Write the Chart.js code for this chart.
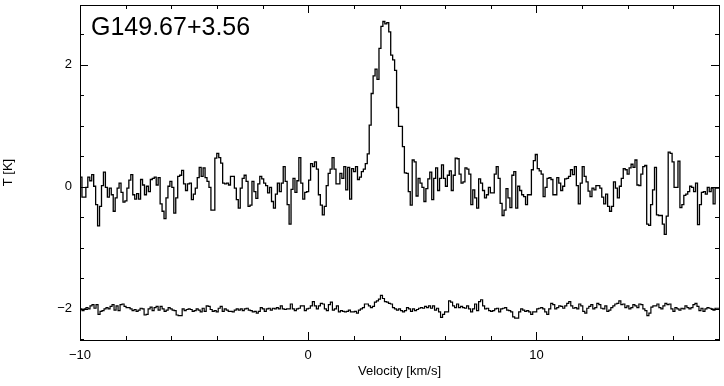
<!DOCTYPE html>
<html>
<head>
<meta charset="utf-8">
<script src="https://cdn.jsdelivr.net/npm/chart.js@4.4.1/dist/chart.umd.min.js"></script>
<style>
  body { margin: 0; background: #fff; }
  canvas { display: block; }
</style>
</head>
<body>
<canvas id="spectrum" width="724" height="386"></canvas>
<script>
// Source name and velocity range of the channel grid
const sourceName = 'G149.67+3.56';
const vStart = -10;
const vEnd = 18;

// Tick values (labelled) on each axis
const xTicks = [-10, 0, 10];
const yTicks = [-2, 0, 2];

const spectrumT = [
  0.16, 0.16, -0.17, -0.17, -0.01, 0.16, 0.10, 0.20, 0.01, -0.29, -0.64, -0.32, 0.02, 0.24, -0.01, -0.17, -0.02,
  -0.13, -0.40, -0.18, -0.02, 0.06, -0.09, -0.25, -0.23, -0.02, 0.11, 0.20, -0.13, -0.20, -0.11, -0.20, 0.12,
  0.03, -0.13, 0.01, -0.08, 0.12, 0.14, 0.16, 0.03, 0.15, -0.28, -0.40, -0.52, -0.18, 0.01, 0.09, -0.01,
  -0.43, -0.18, 0.17, 0.19, 0.27,
  0.05, -0.06, 0.05, 0.06, -0.21, -0.12, -0.02, 0.15, 0.32, 0.17, 0.31, 0.15, 0.09, -0.01, -0.38, -0.38, 0.47,
  0.55, 0.48, 0.39, 0.06, 0.05, 0.06, 0.03, 0.17, 0.17, -0.02, -0.21, -0.35, -0.02, 0.14, 0.19, 0.09,
  -0.32, -0.30, 0.09, -0.08, -0.19, 0.05, 0.17, 0.13, 0.06, 0.02, -0.10, -0.01, -0.24, -0.35, -0.12, 0.06,
  -0.08, 0.06, 0.33, 0.09, -0.29, -0.61,
  -0.04, 0.14, -0.09, 0.10, 0.48, 0.06, -0.20, -0.09, -0.08, 0.11, 0.38, 0.33, 0.41, 0.29, -0.13, -0.30,
  -0.46, -0.32, 0.02, 0.22, 0.29, 0.48, 0.29, 0.05, 0.05, 0.22, 0.14, 0.33, -0.05, 0.32, -0.20, 0.30,
  0.25, 0.33, 0.12, 0.16, 0.25, 0.29, 0.38, 0.54, 1.01, 1.53, 1.82, 1.93, 1.76, 2.27, 2.63, 2.71,
  2.67, 2.69, 2.54, 2.16, 2.08, 1.91, 1.30, 0.99, 0.99, 0.66, 0.23, 0.22, -0.08, -0.30, 0.44, 0.41,
  -0.15, 0.14, 0.06,
  -0.01, -0.24, -0.03, 0.13, 0.24, -0.21, 0.14, 0.31, -0.06, 0.14, 0.36, 0.14, 0.01, 0.19, 0.26, -0.06,
  0.19, 0.47, 0.46, 0.21, 0.06, 0.08, 0.31, 0.29, 0.21, -0.29, -0.05, -0.18, -0.35, 0.13, 0.06, -0.06,
  -0.18, -0.13, -0.01, -0.10, -0.10, 0.21, 0.33, 0.14, -0.27, -0.47, -0.38, -0.03, -0.18, -0.34, 0.19, 0.25,
  -0.35, 0.01, -0.06, -0.13, -0.16, -0.29, -0.13,
  -0.13, 0.28, 0.43, 0.53, 0.30, 0.26, 0.21, -0.16, -0.01, 0.14, 0.15, 0.12, -0.13, -0.13, 0.15, 0.06,
  -0.06, 0.01, 0.13, 0.14, 0.17, 0.28, 0.20, 0.33, 0.02, -0.28, 0.06, 0.33, 0.17, 0.08, -0.07, -0.16,
  -0.02, -0.05, 0.02, 0.02, -0.02, -0.17, -0.28, -0.12, -0.32, -0.40, -0.32, 0.08, -0.02, -0.18, 0.01, 0.14,
  0.30,
  0.28, 0.21, 0.31, 0.37, 0.32, 0.44, 0.03, 0.02, 0.21, 0.33, 0.35, -0.61, -0.63, -0.29, -0.05, 0.32,
  -0.46, -0.47, -0.47, -0.61, -0.78, -0.48, 0.57, 0.55, 0.41, -0.01, -0.01, 0.42, -0.34, -0.29, -0.14, -0.12,
  -0.08, 0.01, -0.01, -0.08, 0.06, -0.62, -0.29, -0.09, -0.08, -0.12, -0.01, -0.08, -0.02, -0.28, -0.02
];

// Residual after fit, shown offset at -2 K
const residualT = [
  -1.83, -2.00, -2.03, -2.00, -1.98, -2.00, -1.95, -1.93, -1.99, -1.93, -2.09, -2.04, -2.03, -2.00, -1.98, -2.00,
  -1.96, -1.93, -2.02, -1.95, -2.03, -1.93, -1.92, -1.96, -1.98, -1.98, -2.00, -2.03, -2.01, -2.04, -2.02, -1.99,
  -2.00, -2.10, -2.09, -2.00, -1.97, -2.03, -1.98, -1.96, -2.02, -1.96, -2.00, -2.04, -2.02, -1.98, -2.00, -2.02,
  -2.03, -2.10, -2.11, -2.11, -2.00, -2.03, -2.01, -2.00, -2.01, -2.04, -2.03, -2.00, -2.02, -2.05, -1.99, -2.04,
  -1.95, -1.96, -2.01, -2.04, -2.03, -2.05, -1.99, -1.96, -2.04, -2.00, -2.02, -2.04, -2.04, -2.05,
  -2.02, -2.00, -2.02, -2.00, -2.03, -2.00, -1.99, -2.02, -2.03, -2.05, -2.04, -2.07, -2.04, -1.98, -2.00, -2.04,
  -2.00, -1.99, -2.02, -1.99, -2.00, -1.98, -2.00, -1.95, -2.00, -2.01, -2.00, -2.00, -1.92, -2.00, -2.03, -2.00,
  -1.99, -1.95, -1.95, -2.03, -2.00, -1.99, -1.95, -1.88, -1.95, -2.00, -1.95, -1.91, -1.92, -2.00, -2.03, -1.93,
  -1.89, -2.02, -2.00, -1.95, -2.05, -2.03, -2.04, -2.05, -2.04, -2.02, -2.05, -2.05, -2.04, -2.07, -2.02, -2.00,
  -1.98, -1.92, -1.92, -1.95, -1.98, -1.96, -1.89, -1.87, -1.84, -1.78, -1.83, -1.88, -1.89, -1.91, -1.92,
  -1.98, -2.00, -2.02, -2.00, -2.03, -2.05, -2.03, -1.98, -2.00, -2.04, -2.00, -2.03, -2.01, -1.99, -1.98, -1.99,
  -1.96, -1.98, -1.95, -1.99, -1.95, -2.02, -1.99, -2.05, -2.14, -2.09, -2.05, -2.05, -1.87, -1.89, -1.95, -1.98,
  -1.92, -1.98, -1.96, -1.98, -1.99, -1.95, -2.00, -2.05, -2.00, -1.92, -2.03, -1.88, -1.85, -1.95, -2.00, -1.99,
  -2.03, -2.04, -2.03, -2.00, -1.99, -2.05, -2.00, -1.99, -1.98, -2.02, -2.03, -2.05, -2.13, -2.15, -2.15, -2.05,
  -2.00, -2.02, -2.04, -2.03, -2.05, -2.09, -2.05, -2.05, -2.00, -1.99, -1.98, -2.00, -2.05, -2.09, -2.00, -1.91,
  -1.93, -2.00,
  -1.98, -1.95, -1.96, -1.99, -1.95, -1.91, -1.88, -1.95, -1.99, -1.98, -2.00, -1.92, -1.95, -2.04, -2.07, -1.99,
  -1.96, -1.93, -2.00, -1.98, -1.91, -1.93, -1.99, -2.00, -1.95, -2.04, -2.02, -1.98, -1.95, -1.92, -1.91, -1.87,
  -1.93, -1.92, -1.98, -1.95, -2.00, -1.98, -1.93, -1.95, -1.98, -1.92, -1.93, -2.00, -2.03, -2.11, -2.07, -1.97,
  -1.95, -1.95, -1.92, -1.98, -2.00, -1.95, -1.91, -1.93, -1.92, -2.00, -2.04, -1.98, -2.00, -2.02, -1.99, -2.00,
  -1.95, -1.98, -2.00, -1.98, -1.93, -1.91, -1.96, -2.03, -1.99, -2.04, -2.00, -1.98, -1.99, -2.00, -2.02, -1.99
];

// channels sit on a regular velocity grid from vStart to vEnd
function toPoints(values) {
  const dv = (vEnd - vStart) / values.length;
  const pts = values.map((t, i) => ({ x: vStart + i * dv, y: t }));
  pts.push({ x: vEnd, y: values[values.length - 1] });
  return pts;
}

function fmt(v) {
  return String(v).replace('-', '\u2212');
}

// Box frame with inward ticks on all sides, plus the source name
const frameTicks = {
  id: 'frameTicks',
  afterDraw(chart) {
    const { ctx, chartArea: a, scales: { x, y } } = chart;
    ctx.save();
    ctx.strokeStyle = '#000';
    ctx.lineWidth = 1;
    ctx.strokeRect(Math.round(a.left) + 0.5, Math.round(a.top) + 0.5,
      Math.round(a.right - a.left), Math.round(a.bottom - a.top));

    ctx.beginPath();
    for (let v = -10; v <= vEnd + 1e-6; v += 2) {
      const px = Math.round(x.getPixelForValue(v)) + 0.5;
      const len = v % 10 === 0 ? 8 : 4;
      ctx.moveTo(px, a.bottom); ctx.lineTo(px, a.bottom - len);
      ctx.moveTo(px, a.top); ctx.lineTo(px, a.top + len);
    }
    for (let v = -2.5; v <= y.max; v += 0.5) {
      const py = Math.round(y.getPixelForValue(v)) + 0.5;
      const len = v % 2 === 0 ? 8 : 4;
      ctx.moveTo(a.left, py); ctx.lineTo(a.left + len, py);
      ctx.moveTo(a.right, py); ctx.lineTo(a.right - len, py);
    }
    ctx.stroke();

    ctx.fillStyle = '#000';
    ctx.font = '25px "Liberation Sans", Arial, sans-serif';
    ctx.textBaseline = 'alphabetic';
    ctx.fillText(sourceName, a.left + 11, a.top + 30);
    ctx.restore();
  }
};

const tickFont = { family: '"Liberation Sans", Arial, sans-serif', size: 13 };

new Chart(document.getElementById('spectrum'), {
  type: 'line',
  data: {
    datasets: [
      {
        label: 'spectrum',
        data: toPoints(spectrumT),
        stepped: 'after',
        borderColor: '#000',
        borderWidth: 1.3,
        pointRadius: 0,
        fill: false
      },
      {
        label: 'residual',
        data: toPoints(residualT),
        stepped: 'after',
        borderColor: '#000',
        borderWidth: 1.2,
        pointRadius: 0,
        fill: false
      }
    ]
  },
  options: {
    responsive: false,
    animation: false,
    layout: { padding: { top: 5, right: 5, left: 0, bottom: 0 } },
    plugins: {
      legend: { display: false },
      tooltip: { enabled: false }
    },
    scales: {
      x: {
        type: 'linear',
        min: vStart,
        max: vEnd,
        afterBuildTicks: (s) => { s.ticks = xTicks.map(v => ({ value: v })); },
        afterFit: (s) => { s.height = 46; s.paddingLeft = 0; s.paddingRight = 0; },
        grid: { display: false, drawTicks: false },
        border: { display: false },
        ticks: {
          padding: 8,
          maxRotation: 0,
          color: '#000',
          font: tickFont,
          callback: (v) => fmt(v)
        },
        title: {
          display: true,
          text: 'Velocity [km/s]',
          color: '#000',
          font: tickFont,
          padding: { top: 0, bottom: 7 }
        }
      },
      y: {
        type: 'linear',
        min: -2.51,
        max: 2.98,
        afterBuildTicks: (s) => { s.ticks = yTicks.map(v => ({ value: v })); },
        afterFit: (s) => { s.width = 80; s.paddingTop = 0; s.paddingBottom = 0; },
        grid: { display: false, drawTicks: false },
        border: { display: false },
        ticks: {
          padding: 8,
          color: '#000',
          font: tickFont,
          callback: (v) => fmt(v)
        },
        title: {
          display: true,
          text: 'T [K]',
          color: '#000',
          font: tickFont,
          padding: { top: 1, bottom: 0 }
        }
      }
    }
  },
  plugins: [frameTicks]
});
</script>
</body>
</html>
